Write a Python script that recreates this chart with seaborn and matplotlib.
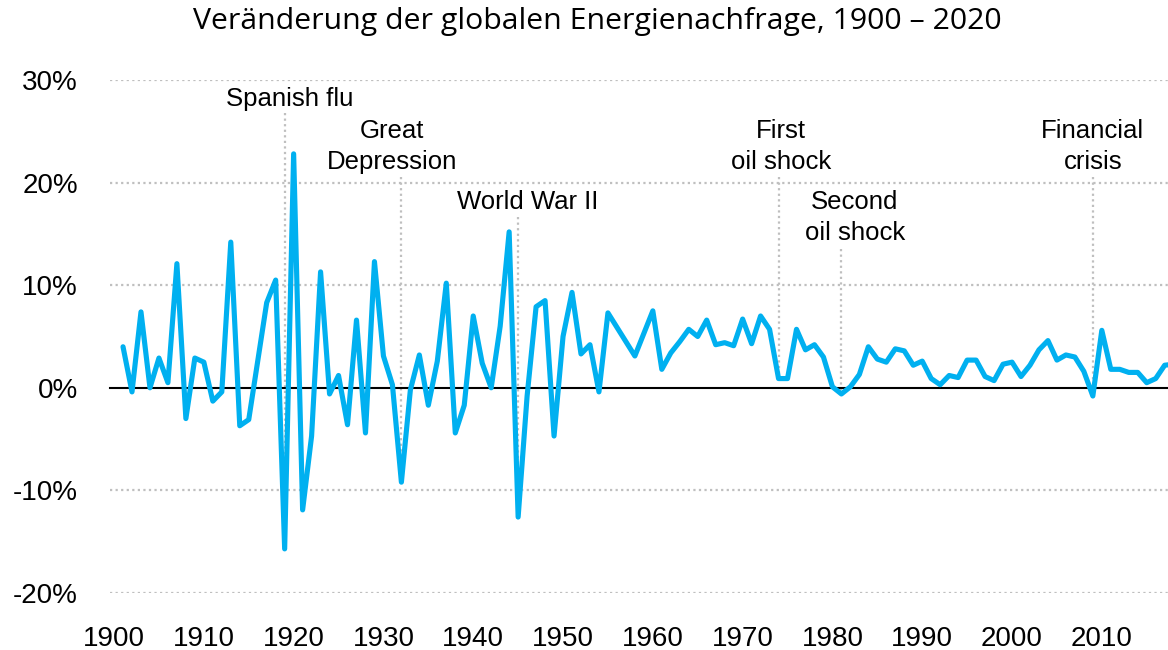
import matplotlib
matplotlib.use("Agg")
import matplotlib.pyplot as plt
import seaborn as sns
import pandas as pd

years = list(range(1901, 2019))
change_pct = [
    4.0, -0.4, 7.4, 0.0, 2.9, 0.5, 12.1, -3.0, 2.9, 2.5,
    -1.3, -0.4, 14.2, -3.7, -3.1, 2.6, 8.3, 10.5, -15.7, 22.8,
    -11.9, -4.7, 11.3, -0.6, 1.2, -3.6, 6.6, -4.4, 12.3, 3.1,
    0.3, -9.2, -0.2, 3.2, -1.7, 2.6, 10.2, -4.4, -1.7, 7.0,
    2.4, 0.0, 6.0, 15.2, -12.6, -0.8, 7.9, 8.5, -4.7, 5.0,
    9.3, 3.3, 4.2, -0.4, 7.3, 5.9, 4.5, 3.1, 5.3, 7.5,
    1.8, 3.4, 4.5, 5.7, 5.0, 6.6, 4.2, 4.4, 4.1, 6.7,
    4.3, 7.0, 5.7, 0.9, 0.9, 5.7, 3.7, 4.2, 3.0, 0.1,
    -0.6, 0.1, 1.3, 4.0, 2.8, 2.5, 3.8, 3.6, 2.2, 2.6,
    0.9, 0.3, 1.2, 1.0, 2.7, 2.7, 1.1, 0.7, 2.3, 2.5,
    1.1, 2.2, 3.7, 4.6, 2.7, 3.2, 3.0, 1.6, -0.8, 5.6,
    1.8, 1.8, 1.5, 1.5, 0.5, 0.9, 2.2, 2.3,
]

event_labels = ["Spanish flu", "Great\nDepression", "World War II",
                "First\noil shock", "Second\noil shock", "Financial\ncrisis"]
event_years = [1919, 1932, 1945, 1974, 1981, 2009]

x_ticks = list(range(1900, 2020, 10))
y_ticks = [-20, -10, 0, 10, 20, 30]

df = pd.DataFrame({"year": years, "change": change_pct})

sns.set_style("white")
plt.rcParams["font.family"] = ["Liberation Sans", "DejaVu Sans"]
plt.rcParams["text.color"] = "black"
plt.rcParams["xtick.color"] = "black"
plt.rcParams["ytick.color"] = "black"

fig = plt.figure(figsize=(11.68, 6.5), dpi=100)
ax = fig.add_axes([110 / 1168, 57 / 650, 1 - 110 / 1168, 513 / 650])

grid_kw = dict(color="#BFBFBF", linewidth=1.6, linestyle=(0, (1, 1.5)))

for yv in y_ticks:
    if yv != 0:
        ax.axhline(yv, zorder=0, **grid_kw)

# event markers: dotted line from under the label down to the data point
line_top = [26.8, 20.5, 16.6, 20.5, 13.5, 20.5]
text_pos = [(1919.6, 28.1), (1931.0, 23.5), (1946.1, 18.1),
            (1974.3, 23.5), (1982.5, 16.6), (2009.0, 23.5)]
for lab, yr, top, (tx, ty) in zip(event_labels, event_years, line_top, text_pos):
    val = change_pct[years.index(yr)]
    ax.plot([yr, yr], [top, val], zorder=1, **grid_kw)
    ax.text(tx, ty, lab, ha="center", va="center", fontsize=18.5,
            linespacing=1.35, color="black")

sns.lineplot(data=df, x="year", y="change", ax=ax, color="#00B0F0",
             linewidth=3.7, zorder=3, solid_joinstyle="round",
             solid_capstyle="round")

ax.set_xlim(1899.55, 2017.37)
ax.set_ylim(-20, 30)
ax.set_xlabel("")
ax.set_ylabel("")

for s in ["top", "right", "left"]:
    ax.spines[s].set_visible(False)
ax.spines["bottom"].set_position(("data", 0))
ax.spines["bottom"].set_color("black")
ax.spines["bottom"].set_linewidth(1.5)
ax.spines["bottom"].set_zorder(2)

ax.set_xticks(x_ticks)
ax.tick_params(axis="x", direction="out", length=6, width=1.5,
               color="black", labelbottom=False)
ax.set_yticks(y_ticks)
ax.set_yticklabels([f"{v}%" for v in y_ticks])
ax.tick_params(axis="y", length=0, pad=23, labelsize=20, labelcolor="black")

sec = ax.secondary_xaxis("bottom")
sec.set_xticks(x_ticks)
sec.tick_params(length=0, pad=24, labelsize=20, labelcolor="black")
sec.spines["bottom"].set_visible(False)

fig.text(0.511, 1 - 21 / 650, "Veränderung der globalen Energienachfrage, 1900 – 2020",
         ha="center", va="center", fontsize=21.8, color="black",
         family=["Open Sans", "DejaVu Sans"])

fig.savefig("out.png", dpi=100)
